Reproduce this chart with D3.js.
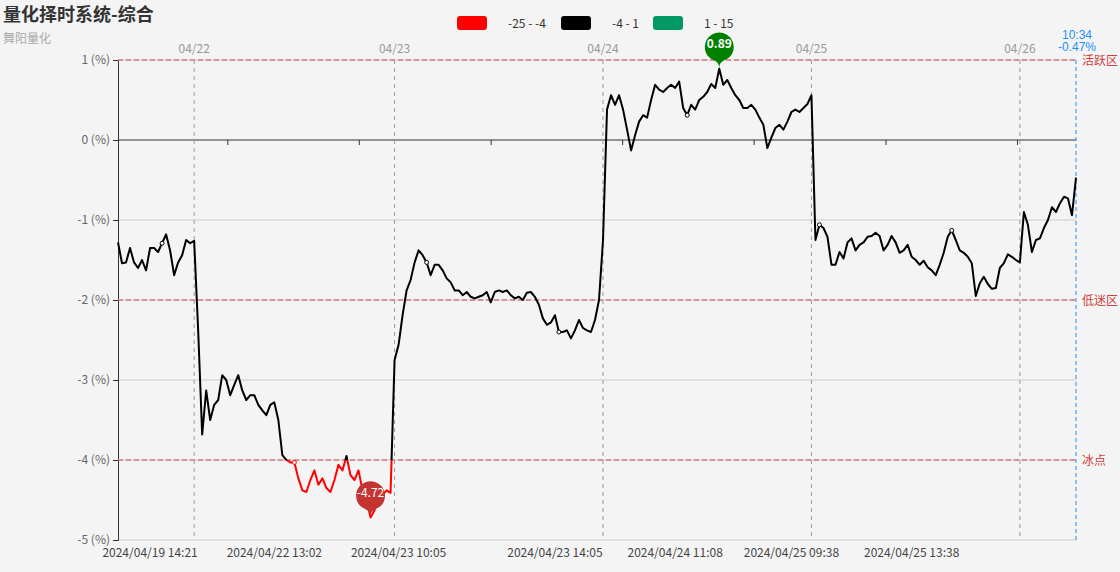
<!DOCTYPE html>
<html><head><meta charset="utf-8">
<script src="https://cdn.jsdelivr.net/npm/d3@7"></script>
<style>
body{margin:0;background:#f4f4f4}
text{font-family:"Noto Sans CJK SC","Microsoft YaHei",sans-serif}
</style>
</head><body>
<svg id="c" width="1120" height="572"></svg>
<script>
// ---- data (percent) ----
const values = [
 -1.28,-1.54,-1.53,-1.35,-1.53,-1.60,-1.50,-1.63,-1.35,-1.35,-1.40,-1.29,-1.18,-1.38,-1.69,-1.53,-1.44,-1.25,-1.29,-1.26,
 -2.38,-3.68,-3.13,-3.50,-3.31,-3.25,-2.94,-3.00,-3.19,-3.06,-2.94,-3.13,-3.25,-3.19,-3.19,-3.31,-3.38,-3.44,-3.31,-3.28,
 -3.50,-3.94,-4.00,-4.03,-4.03,-4.23,-4.38,-4.40,-4.25,-4.13,-4.31,-4.23,-4.35,-4.40,-4.25,-4.06,-4.13,-3.95,-4.19,-4.25,
 -4.13,-4.38,-4.50,-4.72,-4.63,-4.38,-4.44,-4.38,-4.41,
 -2.75,-2.56,-2.19,-1.88,-1.75,-1.53,-1.38,-1.44,-1.53,-1.69,-1.56,-1.56,-1.63,-1.73,-1.78,-1.88,-1.88,-1.94,-1.90,-1.96,
 -1.98,-1.96,-1.94,-1.90,-2.03,-1.90,-1.88,-1.90,-1.88,-1.94,-1.98,-1.96,-2.00,-1.91,-1.90,-1.96,-2.06,-2.23,-2.31,-2.28,
 -2.19,-2.40,-2.40,-2.38,-2.48,-2.38,-2.25,-2.35,-2.38,-2.40,-2.25,-2.00,
 -1.25,0.38,0.56,0.44,0.56,0.38,0.13,-0.13,0.06,0.23,0.31,0.28,0.50,0.69,0.63,0.60,0.65,0.69,0.65,0.73,
 0.40,0.31,0.44,0.38,0.50,0.54,0.60,0.70,0.65,0.89,0.69,0.75,0.65,0.56,0.50,0.40,0.40,0.44,0.38,0.28,
 0.19,-0.10,0.03,0.15,0.19,0.13,0.23,0.35,0.38,0.35,0.40,0.45,0.56,
 -1.25,-1.06,-1.10,-1.21,-1.56,-1.56,-1.40,-1.48,-1.28,-1.23,-1.38,-1.31,-1.28,-1.21,-1.20,-1.16,-1.20,-1.38,-1.31,-1.20,
 -1.28,-1.41,-1.38,-1.31,-1.46,-1.50,-1.56,-1.51,-1.59,-1.63,-1.69,-1.56,-1.41,-1.21,-1.13,-1.25,-1.38,-1.41,-1.46,-1.54,
 -1.95,-1.79,-1.71,-1.80,-1.86,-1.85,-1.60,-1.54,-1.43,-1.46,-1.50,-1.53,
 -0.90,-1.06,-1.40,-1.25,-1.23,-1.10,-1.00,-0.84,-0.90,-0.79,-0.71,-0.73,-0.94,-0.47
];
const dayLabels = ["04/22","04/23","04/24","04/25","04/26"];
const dayIndex = [19,69,121,173,225];
const timeLabels = ["2024/04/19 14:21","2024/04/22 13:02","2024/04/23 10:05","2024/04/23 14:05","2024/04/24 11:08","2024/04/25 09:38","2024/04/25 13:38"];
const timeIndex = [8,39,70,109,139,168,198];
const zeroTickIndex = [27.4,60.2,93.1,125.9,158.7,191.6,224.4];
const symbolIndex = [11,44,77,110,142,175,208];
const yTicks = [1,0,-1,-2,-3,-4,-5];
const zoneValues = [1,-2,-4];
const zoneLabels = ["活跃区","低迷区","冰点"];
const pieceMin = [-25,-4,1];
const pieceMax = [-4,1,15];
const pieceColors = ["#ff0000","#000000","#009966"];
const lineColors = ["#ff0000","#000000","#008000"];
const lastTime = "10:34";

// ---- layout ----
const svg = d3.select("#c");
const W=1120,H=572, L=118, R=1076, T=60, B=540;
svg.append("rect").attr("width",W).attr("height",H).attr("fill","#f4f4f4");
const x = d3.scaleLinear().domain([0, values.length-1]).range([L,R]);
const y = d3.scaleLinear().domain([-5,1]).range([B,T]);

// title
svg.append("text").attr("x",3).attr("y",21).attr("font-size",18).attr("font-weight","bold").attr("fill","#333").text("量化择时系统-综合");
svg.append("text").attr("x",3).attr("y",43).attr("font-size",12).attr("fill","#aaa").text("舞阳量化");

// legend (visualMap pieces)
const legX = [457,561,653];
pieceMin.forEach((mn,k)=>{
  svg.append("rect").attr("x",legX[k]).attr("y",16).attr("width",30).attr("height",14).attr("rx",3).attr("fill",pieceColors[k]);
  svg.append("text").attr("x",legX[k]+51).attr("y",28).attr("font-size",12).attr("fill","#333").text(`${mn} - ${pieceMax[k]}`);
});

// horizontal grid
svg.append("g").selectAll("line").data(yTicks.filter(v=>v!==0 && v!==-5)).join("line")
  .attr("x1",L).attr("x2",R).attr("y1",d=>y(d)).attr("y2",d=>y(d)).attr("stroke","#ccc");
svg.append("line").attr("x1",L).attr("x2",R).attr("y1",y(-5)).attr("y2",y(-5)).attr("stroke","#ccc");

// y axis
const yAxis = d3.axisLeft(y).tickValues(yTicks).tickSize(5).tickPadding(3).tickFormat(d=>`${d} (%)`);
const ga = svg.append("g").attr("transform",`translate(${L},0)`).call(yAxis);
ga.select(".domain").attr("stroke","#333");
ga.selectAll(".tick line").attr("stroke","#333");
ga.selectAll(".tick text").attr("fill","#666").attr("font-size",12).style("font-family",'"Noto Sans CJK SC",sans-serif');

// zero line with ticks
svg.append("line").attr("x1",L).attr("x2",R).attr("y1",y(0)).attr("y2",y(0)).attr("stroke","#333");
svg.append("g").selectAll("line").data(zeroTickIndex).join("line")
  .attr("x1",d=>x(d)).attr("x2",d=>x(d)).attr("y1",y(0)).attr("y2",y(0)+5).attr("stroke","#333");

// day separators
svg.append("g").selectAll("line").data(dayIndex).join("line")
  .attr("x1",d=>x(d)).attr("x2",d=>x(d)).attr("y1",T).attr("y2",B)
  .attr("stroke","#999").attr("stroke-dasharray","4,4");
svg.append("g").selectAll("text").data(dayIndex).join("text")
  .attr("x",d=>x(d)).attr("y",53).attr("text-anchor","middle").attr("font-size",12).attr("fill","#999")
  .text((d,i)=>dayLabels[i]);

// bottom time labels
svg.append("g").selectAll("text").data(timeIndex).join("text")
  .attr("x",d=>x(d)).attr("y",557).attr("text-anchor","middle").attr("font-size",12).attr("fill","#444")
  .text((d,i)=>timeLabels[i]);

// zone mark lines
svg.append("g").selectAll("line").data(zoneValues).join("line")
  .attr("x1",L).attr("x2",R).attr("y1",d=>y(d)).attr("y2",d=>y(d))
  .attr("stroke","#d27a78").attr("stroke-width",1.3).attr("stroke-dasharray","5,3");
svg.append("g").selectAll("text").data(zoneValues).join("text")
  .attr("x",R+6).attr("y",d=>y(d)+4.5).attr("font-size",12).attr("fill","#cf3f3c")
  .text((d,i)=>zoneLabels[i]);

// last value marker
const last = values[values.length-1];
svg.append("line").attr("x1",R).attr("x2",R).attr("y1",T).attr("y2",B)
  .attr("stroke","#1e90ff").attr("stroke-dasharray","4,3");
svg.append("text").attr("x",R+1).attr("y",38.5).attr("text-anchor","middle").attr("font-size",12)
  .style("font-family","'Liberation Sans',Arial,sans-serif").attr("fill","#1e90ff").text(lastTime);
svg.append("text").attr("x",R+1).attr("y",50.5).attr("text-anchor","middle").attr("font-size",12)
  .style("font-family","'Liberation Sans',Arial,sans-serif").attr("fill","#1e90ff").text(`${last.toFixed(2)}%`);

// line with piecewise colours
const line = d3.line().x((d,i)=>x(i)).y(d=>y(d));
const defs = svg.append("defs");
const bands = [[y(-4), H],[y(1), y(-4)],[0, y(1)]];
bands.forEach((b,k)=>{
  defs.append("clipPath").attr("id","cp"+k).append("rect").attr("x",0).attr("y",b[0]).attr("width",W).attr("height",b[1]-b[0]);
  svg.append("path").datum(values).attr("d",line).attr("fill","none")
    .attr("stroke",lineColors[k]).attr("stroke-width",2).attr("stroke-linejoin","round")
    .attr("clip-path",`url(#cp${k})`);
});
const colorOf = v => v < -4 ? lineColors[0] : (v <= 1 ? lineColors[1] : lineColors[2]);
svg.append("g").selectAll("circle").data(symbolIndex).join("circle")
  .attr("cx",d=>x(d)).attr("cy",d=>y(values[d])).attr("r",2)
  .attr("fill","#fff").attr("stroke",d=>colorOf(values[d])).attr("stroke-width",1);

// pins for max / min
function pinPath(w,h){
  const r=w/2, dy=r*r/(h-r), cy=-h+r+dy, ang=Math.asin(dy/r), dx=Math.cos(ang)*r;
  const tx=Math.sin(ang), ty=Math.cos(ang), c1=r*0.6, c2=r*0.7;
  const p=d3.path();
  p.moveTo(-dx, cy+dy);
  p.arc(0, cy, r, Math.PI-ang, Math.PI*2+ang);
  p.bezierCurveTo(dx-tx*c1, cy+dy+ty*c1, 0, -c2, 0, 0);
  p.bezierCurveTo(0, -c2, -dx+tx*c1, cy+dy+ty*c1, -dx, cy+dy);
  p.closePath();
  return {d:p.toString(), cy:cy};
}
const iMax = d3.maxIndex(values), iMin = d3.minIndex(values);
[[iMax,"#008000"],[iMin,"#c23531"]].forEach(([i,col])=>{
  const pp = pinPath(29,43.5);
  const g = svg.append("g").attr("transform",`translate(${x(i)},${y(values[i])})`);
  g.append("path").attr("d",pp.d).attr("fill",col);
  g.append("text").attr("x",0).attr("y",pp.cy+1).attr("text-anchor","middle").attr("font-size",12)
    .attr("fill","#fff").attr("font-weight",i===iMax?"bold":"normal").text(values[i].toFixed(2));
});
</script>
</body></html>
